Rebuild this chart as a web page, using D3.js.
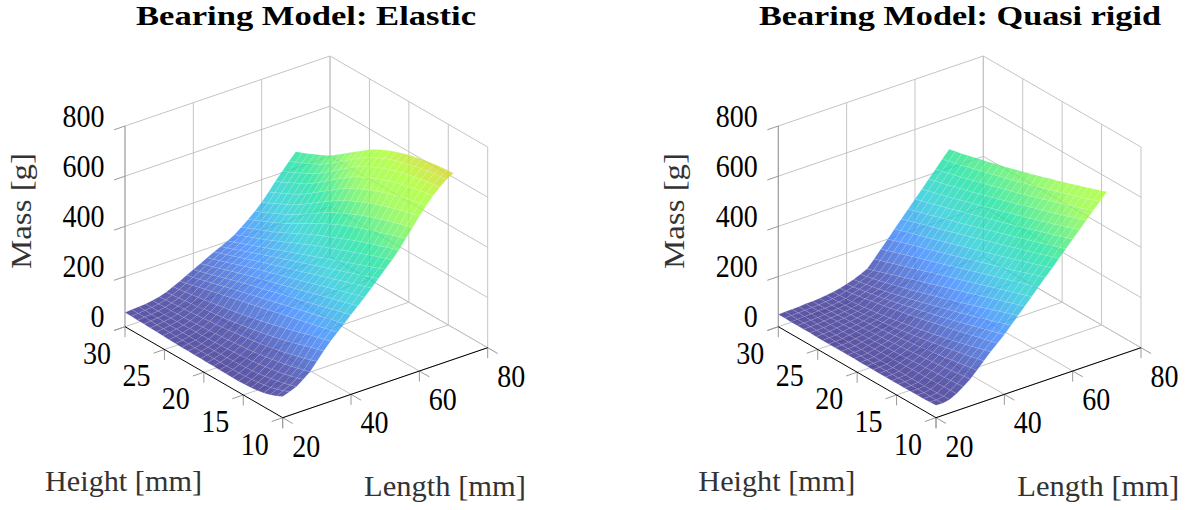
<!DOCTYPE html>
<html>
<head>
<meta charset="utf-8">
<title>Bearing mass</title>
<script src="https://cdn.jsdelivr.net/npm/d3@7"></script>
<style>
  html, body { margin: 0; padding: 0; background: #fff; }
  svg { display: block; }
  text { font-family: "Liberation Serif", serif; }
</style>
</head>
<body>
<div id="chart"></div>
<script>
const lengthTicks = [20, 40, 60, 80];
const heightTicks = [30, 25, 20, 15, 10];
const massTicks = [0, 200, 400, 600, 800];

// rows follow lengths, columns follow heights
const lengths = [20, 22, 24, 26, 28, 30, 32, 34, 36, 38, 40, 42, 44, 46, 48, 50, 52, 54, 56, 58, 60, 62, 64, 66, 68, 70];
const heights = [30, 29.2, 28.4, 27.6, 26.8, 26, 25.2, 24.4, 23.6, 22.8, 22, 21.2, 20.4, 19.6, 18.8, 18, 17.2, 16.4, 15.6, 14.8, 14, 13.2, 12.4, 11.6, 10.8, 10];

const elasticMass = [
  [57,56,55,54,53,52,51,50,49,48,48,47,47,46,46,45,45,44,44,45,47,50,55,62,72,85],
  [59,58,58,57,56,55,55,54,53,53,52,52,52,52,52,52,52,53,54,56,59,63,68,75,84,94],
  [61,61,60,60,60,59,59,59,59,59,59,59,60,60,61,62,63,65,67,70,74,79,84,90,97,105],
  [63,63,64,64,64,65,65,66,67,67,68,69,71,72,74,76,78,81,84,88,92,97,102,109,116,124],
  [67,68,69,70,71,72,74,75,77,78,80,82,84,87,89,92,95,99,103,108,113,118,124,131,138,146],
  [73,75,77,79,81,83,86,88,91,93,96,99,103,106,110,114,118,123,128,134,140,147,154,161,169,178],
  [82,85,88,91,94,97,101,104,108,111,115,120,124,129,134,139,145,151,157,164,171,179,187,195,202,210],
  [94,98,102,106,110,114,119,123,128,133,138,143,149,155,161,167,174,181,188,195,203,211,219,226,233,240],
  [107,113,120,126,133,139,146,152,158,165,171,177,183,190,196,202,209,215,221,227,234,240,246,253,259,265],
  [121,128,134,142,149,156,163,170,177,183,190,197,204,210,217,224,231,237,244,251,257,264,271,278,284,291],
  [135,142,150,157,165,173,181,189,196,203,210,217,224,232,239,246,253,260,267,274,281,288,296,303,310,317],
  [149,158,165,174,182,191,199,207,215,223,230,238,245,253,260,268,275,283,290,298,305,313,320,328,335,343],
  [163,172,180,189,198,207,216,224,233,241,249,257,265,273,281,289,297,305,313,321,329,337,345,353,361,369],
  [177,186,195,204,213,222,232,241,250,258,267,276,284,293,301,310,319,327,336,344,353,362,370,379,387,396],
  [189,198,208,218,227,237,247,256,266,275,284,294,303,312,321,331,340,349,359,368,377,387,396,405,415,424],
  [202,212,222,232,242,252,262,272,282,292,302,312,322,332,342,352,362,372,382,392,402,412,422,432,442,452],
  [218,228,239,249,260,270,282,293,305,316,328,339,351,362,373,383,394,403,414,423,433,443,453,462,471,480],
  [238,249,260,271,282,292,305,317,330,343,356,369,381,392,403,414,425,436,446,456,465,474,483,492,501,510],
  [260,271,283,294,306,318,331,346,360,375,389,403,418,430,443,454,464,475,485,495,504,512,521,530,538,545],
  [283,294,306,319,331,343,358,373,389,406,421,437,453,465,478,490,502,513,523,532,541,550,557,566,573,580],
  [310,321,334,347,359,372,388,405,422,440,457,474,490,505,518,530,542,553,563,572,581,589,597,604,611,617],
  [342,353,366,379,391,405,421,439,458,476,493,512,529,543,557,570,581,591,602,610,618,626,633,639,645,650],
  [375,386,398,412,424,437,454,472,492,511,529,547,565,581,594,606,617,627,638,645,653,659,665,672,676,680],
  [406,417,429,442,455,468,484,503,523,542,561,580,599,612,626,638,649,659,668,675,682,688,693,699,702,705],
  [436,447,458,471,483,496,513,531,550,569,588,607,625,640,653,665,676,684,693,699,706,712,716,721,723,726],
  [465,475,486,498,510,522,538,556,575,594,612,630,648,662,675,686,696,705,713,719,725,730,734,738,740,742]
];

const quasiRigidMass = [
  [49,49,48,48,48,48,47,47,47,47,47,47,47,46,46,46,46,46,46,46,46,46,47,47,48,50],
  [50,50,49,49,49,49,49,48,48,48,48,48,48,48,48,47,47,47,47,47,47,47,47,47,47,48],
  [51,51,51,51,50,50,50,50,50,50,50,50,50,50,50,50,50,50,50,50,50,50,51,51,52,54],
  [52,52,52,52,53,53,54,54,55,55,56,57,57,58,59,59,60,61,62,63,63,64,65,66,67,68],
  [54,54,55,55,56,57,58,59,60,61,62,63,65,66,67,69,70,72,74,75,77,79,80,82,84,86],
  [55,55,56,57,58,60,61,63,64,66,68,70,72,75,77,79,82,84,87,89,92,95,98,101,104,107],
  [57,58,59,60,62,64,66,68,71,73,76,79,82,85,89,92,96,100,103,107,111,116,120,124,129,133],
  [60,61,62,64,66,69,72,75,78,82,86,89,94,98,102,107,112,117,122,127,132,138,143,149,155,161],
  [64,65,67,69,72,75,79,82,86,91,95,100,105,110,116,122,127,134,140,146,153,159,166,173,181,188],
  [70,73,77,81,86,91,96,101,106,112,118,123,129,135,141,148,154,160,166,173,179,186,193,199,206,213],
  [77,80,85,90,95,100,106,112,118,124,131,137,144,150,157,164,171,178,185,193,200,208,215,223,230,238],
  [86,90,95,100,106,112,118,125,132,139,146,153,161,168,176,184,191,199,207,215,224,232,240,249,257,266],
  [97,103,109,115,122,129,136,144,151,159,167,175,183,191,200,208,216,225,233,242,251,260,269,278,286,295],
  [110,118,127,135,144,153,161,170,178,187,195,204,212,221,229,238,246,255,263,272,280,289,297,306,314,323],
  [139,148,156,165,173,182,190,199,207,216,224,233,241,250,258,267,275,284,292,301,309,318,326,335,343,352],
  [170,178,187,195,204,212,221,229,237,246,254,263,271,280,288,297,305,313,322,330,339,347,356,364,373,381],
  [200,208,217,225,233,241,249,257,266,274,282,291,299,308,316,324,333,341,349,358,366,375,384,393,402,410],
  [231,239,247,255,263,271,279,287,295,303,311,320,328,336,344,353,361,369,378,386,395,404,412,421,430,438],
  [262,270,278,286,294,302,309,317,326,334,342,350,358,367,375,383,391,399,408,416,425,433,441,450,459,467],
  [292,299,307,314,323,331,339,347,354,362,371,379,387,395,403,411,420,428,437,445,453,461,471,479,488,496],
  [323,330,337,345,353,360,368,377,384,392,400,408,416,424,432,440,448,456,465,474,483,491,499,508,517,525],
  [353,360,367,374,382,389,397,405,412,420,428,436,444,452,460,468,476,484,493,501,510,518,527,535,544,553],
  [384,391,397,404,412,419,426,433,441,449,456,464,472,480,488,496,505,513,521,528,538,546,555,564,573,582],
  [414,420,427,434,441,447,455,463,470,478,485,493,501,508,516,524,533,541,550,558,567,575,584,593,602,611],
  [445,451,457,463,471,478,485,492,499,507,514,521,529,537,545,552,561,569,578,585,595,603,612,620,630,639],
  [475,481,486,493,500,507,513,521,528,535,542,550,558,565,573,581,590,597,606,614,623,632,641,650,659,668]
];

const colorMass = [40, 110, 230, 340, 450, 590, 670, 745];
const colorStops = ["#32298a", "#3b3fa6", "#3785ff", "#23cbd8", "#16e29c", "#92fa45", "#a6ff2a", "#d8d324"];

const width = 1193;
const height = 510;

const color = d3.scaleLinear().domain(colorMass).range(colorStops).clamp(true);

const lenX = d3.scaleLinear().domain([20, 80]).range([0, 205]);
const lenY = d3.scaleLinear().domain([20, 80]).range([0, -70]);
const hgtX = d3.scaleLinear().domain([30, 10]).range([0, 157.7]);
const hgtY = d3.scaleLinear().domain([30, 10]).range([0, 91]);
const massY = d3.scaleLinear().domain([0, 800]).range([0, -200.7]);

const svg = d3.select("#chart").append("svg").attr("width", width).attr("height", height);

function drawPanel(originX, titleText, titleX, titleWidth, mass) {
  const originY = 326.7;
  const project = (l, h, m) => [
    originX + lenX(l) + hgtX(h),
    originY + lenY(l) + hgtY(h) + massY(m)
  ];
  const g = svg.append("g");

  const seg = (a, b, stroke, w) =>
    g.append("line")
      .attr("x1", a[0]).attr("y1", a[1])
      .attr("x2", b[0]).attr("y2", b[1])
      .attr("stroke", stroke)
      .attr("stroke-width", w);

  const gridColor = "#c4c4c4";

  // back walls and floor
  massTicks.forEach((m) => {
    seg(project(20, 30, m), project(80, 30, m), gridColor, 1);
    seg(project(80, 30, m), project(80, 10, m), gridColor, 1);
  });
  lengthTicks.slice(1).forEach((l) => {
    seg(project(l, 30, 0), project(l, 30, 800), gridColor, 1);
    seg(project(l, 30, 0), project(l, 10, 0), gridColor, 1);
  });
  heightTicks.forEach((h) => {
    seg(project(80, h, 0), project(80, h, 800), gridColor, 1);
    if (h !== 30) seg(project(20, h, 0), project(80, h, 0), gridColor, 1);
  });

  // ticks
  const tickColor = "#9a9a9a";
  massTicks.forEach((m) => {
    const p = project(20, 30, m);
    seg(p, [p[0] - 11, p[1] + 3.8], tickColor, 1);
  });
  heightTicks.forEach((h) => {
    const p = project(20, h, 0);
    seg(p, [p[0], p[1] + 10.5], tickColor, 1);
    seg(p, [p[0] - 11, p[1] + 3.8], tickColor, 1);
  });
  lengthTicks.forEach((l) => {
    const p = project(l, 10, 0);
    seg(p, [p[0], p[1] + 10.5], tickColor, 1);
    seg(p, [p[0] + 10, p[1] + 5.8], tickColor, 1);
  });

  seg(project(20, 30, 0), project(20, 30, 800), "#999", 1.2);
  seg(project(20, 30, 0), project(20, 10, 0), "#000", 1);
  seg(project(20, 10, 0), project(80, 10, 0), "#000", 1);

  // surface, back cells first
  const cells = [];
  for (let i = lengths.length - 2; i >= 0; i--) {
    for (let j = 0; j < heights.length - 1; j++) {
      cells.push({ i, j });
    }
  }
  g.append("g")
    .selectAll("path")
    .data(cells)
    .enter()
    .append("path")
    .attr("d", (c) => {
      const pts = [
        project(lengths[c.i], heights[c.j], mass[c.i][c.j]),
        project(lengths[c.i + 1], heights[c.j], mass[c.i + 1][c.j]),
        project(lengths[c.i + 1], heights[c.j + 1], mass[c.i + 1][c.j + 1]),
        project(lengths[c.i], heights[c.j + 1], mass[c.i][c.j + 1])
      ];
      return "M" + pts.join("L") + "Z";
    })
    .attr("fill", (c) =>
      color((mass[c.i][c.j] + mass[c.i + 1][c.j] + mass[c.i + 1][c.j + 1] + mass[c.i][c.j + 1]) / 4)
    )
    .attr("fill-opacity", 0.8)
    .attr("stroke", "#fff")
    .attr("stroke-opacity", 0.2)
    .attr("stroke-width", 0.5);

  // tick labels
  const label = (x, y, t, anchor) =>
    g.append("text")
      .attr("x", x).attr("y", y)
      .attr("text-anchor", anchor)
      .attr("dominant-baseline", "central")
      .attr("font-size", 31)
      .attr("fill", "#000")
      .attr("textLength", String(t).length * 14)
      .attr("lengthAdjust", "spacingAndGlyphs")
      .text(t);

  massTicks.forEach((m) => {
    const p = project(20, 30, m);
    label(p[0] - 20.5, p[1] - 10, m, "end");
  });
  heightTicks.forEach((h) => {
    const p = project(20, h, 0);
    label(p[0] - 28, p[1] + 26.5, h, "middle");
  });
  lengthTicks.forEach((l) => {
    const p = project(l, 10, 0);
    label(p[0] + 23.5, p[1] + 28.5, l, "middle");
  });

  // axis names
  const axisName = (x, y, t, w) =>
    g.append("text")
      .attr("x", x).attr("y", y)
      .attr("font-size", 30)
      .attr("fill", "#333")
      .attr("textLength", w)
      .attr("lengthAdjust", "spacingAndGlyphs")
      .text(t);

  axisName(originX - 80, 491, "Height [mm]", 157);
  axisName(originX + 239, 496, "Length [mm]", 162);
  axisName(0, 0, "Mass [g]", 116)
    .attr("transform", `translate(${originX - 94},269) rotate(-90)`);

  // title
  g.append("text")
    .attr("x", titleX).attr("y", 25)
    .attr("font-size", 28)
    .attr("font-weight", "bold")
    .attr("fill", "#000")
    .attr("textLength", titleWidth)
    .attr("lengthAdjust", "spacingAndGlyphs")
    .text(titleText);
}

drawPanel(125, "Bearing Model: Elastic", 136, 340, elasticMass);
drawPanel(778.3, "Bearing Model: Quasi rigid", 759, 402, quasiRigidMass);
</script>
</body>
</html>
